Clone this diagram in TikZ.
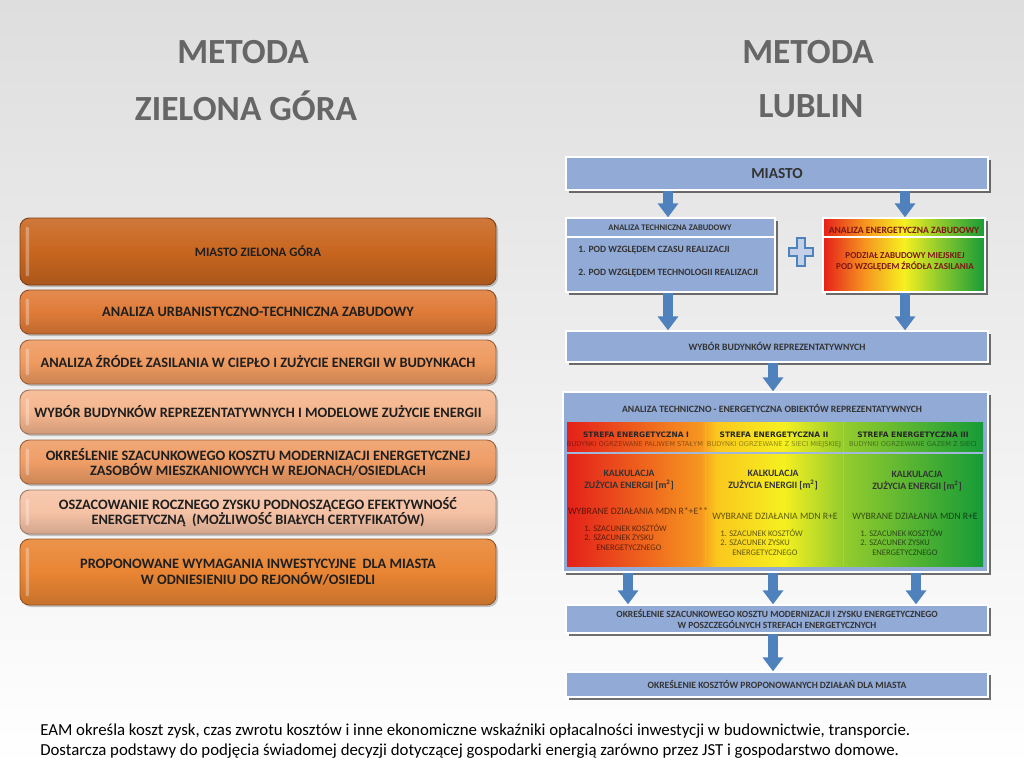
\documentclass[tikz,border=0pt]{standalone}
\usepackage{fontspec}
\setmainfont{Carlito}
\newfontfamily\verd{DejaVu Sans}
\usetikzlibrary{fit,shadows,arrows.meta,calc}
\definecolor{boxblue}{RGB}{146,170,214}
\definecolor{arrblue}{RGB}{79,129,189}
\definecolor{titlegray}{RGB}{102,102,102}
\definecolor{zred}{RGB}{228,32,26}
\definecolor{zorange}{RGB}{246,150,32}
\definecolor{zyorange}{RGB}{250,200,30}
\definecolor{zyellow}{RGB}{246,240,32}
\definecolor{zlgreen}{RGB}{150,205,45}
\definecolor{zgreen}{RGB}{22,155,55}
\definecolor{darkred}{RGB}{125,22,22}
\definecolor{bgtop}{RGB}{222,222,222}
\definecolor{or1}{RGB}{200,102,32}
\definecolor{or2}{RGB}{224,123,56}
\definecolor{or3}{RGB}{239,154,96}
\definecolor{or4}{RGB}{245,182,142}
\definecolor{or5}{RGB}{239,157,102}
\definecolor{or6}{RGB}{246,194,165}
\definecolor{or7}{RGB}{233,133,51}
\pgfdeclarehorizontalshading{zones}{100bp}{color(0bp)=(zred); color(25bp)=(zred); color(41bp)=(zorange); color(43bp)=(zyorange); color(51bp)=(zyellow); color(58bp)=(zlgreen); color(75bp)=(zgreen); color(100bp)=(zgreen)}
\pgfdeclarehorizontalshading{ryg}{100bp}{color(0bp)=(zred); color(25bp)=(zred); color(38bp)=(zorange); color(50bp)=(zyellow); color(60bp)=(zlgreen); color(75bp)=(zgreen); color(100bp)=(zgreen)}
\tikzset{
  title/.style={font=\bfseries\fontsize{26.5}{30}\selectfont, text=titlegray, inner sep=0pt},
  lbox/.style={rounded corners=7pt, draw=#1!65!black, line width=0.7pt,
    top color=#1!88!white, bottom color=#1!85!black, middle color=#1,
    drop shadow={shadow xshift=1.5pt, shadow yshift=-1.5pt, opacity=0.45},
    inner sep=0pt},
  ltext/.style={inner sep=0pt, align=center, text=black!88,
    font=\bfseries\fontsize{10.75}{11.2}\selectfont},
  hilite/.style={fill=white, opacity=0.3, rounded corners=1.5pt},
  bbox/.style={fill=boxblue, draw=white, line width=1pt,
    drop shadow={shadow xshift=2pt, shadow yshift=-2pt, opacity=0.75, fill=black!75},
    inner sep=0pt},
  btext/.style={font=\bfseries\fontsize{#1}{8.3}\selectfont, inner sep=0pt, align=center, text=black!80},
  rtext/.style={font=\fontsize{#1}{7.1}\selectfont, inner sep=0pt, text=black, text opacity=0.6},
  vtext/.style={font=\verd\bfseries\fontsize{5.6}{6}\selectfont, inner sep=0pt, text=black!85},
  vsub/.style={font=\verd\fontsize{5}{5}\selectfont, inner sep=0pt, text=black, text opacity=0.4},
  barrow/.style={draw=arrblue, line width=7.5pt, -{Triangle[length=10.5pt,width=15pt]}},
  sepline/.style={draw=white, line width=1.2pt},
  colline/.style={draw=boxblue!85!white, line width=1pt}
}
\begin{document}
\begin{tikzpicture}[x=0.75pt, y=-0.75pt]
\useasboundingbox (0,0) rectangle (1024,768);
\fill[top color=bgtop, bottom color=white] (0,0) rectangle (1024,768);

% titles
\node[title] (t1a) at (243,52) {METODA};
\node[title] (t1b) at (246,106) {ZIELONA GÓRA};
\node[title] (t2a) at (808,52) {METODA};
\node[title] (t2b) at (811,106) {LUBLIN};

% left column
\node[lbox=or1, fit={(20,218)(496,285)}] (l1) {};
\node[lbox=or2, fit={(20,290)(496,334)}] (l2) {};
\node[lbox=or3, fit={(20,340)(496,384)}] (l3) {};
\node[lbox=or4, fit={(20,390)(496,434)}] (l4) {};
\node[lbox=or5, fit={(20,440)(496,484)}] (l5) {};
\node[lbox=or6, fit={(20,490)(496,534)}] (l6) {};
\node[lbox=or7, fit={(20,539)(496,605)}] (l7) {};
\foreach \b in {l1,l2,l3,l4,l5,l6,l7}
  \fill[hilite] ($(\b.north west)+(6,9)$) rectangle ($(\b.south west)+(9.5,-9)$);
\node[ltext, font=\bfseries\fontsize{9.6}{11}\selectfont] (l1t) at (l1.center) {MIASTO ZIELONA GÓRA};
\node[ltext] (l2t) at (l2.center) {ANALIZA URBANISTYCZNO-TECHNICZNA ZABUDOWY};
\node[ltext] (l3t) at (l3.center) {ANALIZA ŹRÓDEŁ ZASILANIA W CIEPŁO I ZUŻYCIE ENERGII W BUDYNKACH};
\node[ltext] (l4t) at (l4.center) {WYBÓR BUDYNKÓW REPREZENTATYWNYCH I MODELOWE ZUŻYCIE ENERGII};
\node[ltext] (l5t) at (l5.center) {OKREŚLENIE SZACUNKOWEGO KOSZTU MODERNIZACJI ENERGETYCZNEJ\\ZASOBÓW MIESZKANIOWYCH W REJONACH/OSIEDLACH};
\node[ltext] (l6t) at (l6.center) {OSZACOWANIE ROCZNEGO ZYSKU PODNOSZĄCEGO EFEKTYWNOŚĆ\\ENERGETYCZNĄ~ (MOŻLIWOŚĆ BIAŁYCH CERTYFIKATÓW)};
\node[ltext, font=\bfseries\fontsize{10.75}{12}\selectfont] (l7t) at (l7.center) {PROPONOWANE WYMAGANIA INWESTYCYJNE~ DLA MIASTA\\W ODNIESIENIU DO REJONÓW/OSIEDLI};

% right column
\node[bbox, fit={(566,157)(988,190)}] (miasto) {};
\node[btext=11.5] (miastot) at (miasto.center) {MIASTO};

\node[bbox, fit={(566,218)(775,292)}] (tech) {};
\draw[sepline] (tech.west |- 0,237) -- (tech.east |- 0,237);
\node[btext=6.4] (techh) at (670,228) {ANALIZA TECHNICZNA ZABUDOWY};
\node[btext=7.2, anchor=west] (tech1) at (578,250) {1. POD WZGLĘDEM CZASU REALIZACJI};
\node[btext=7.2, anchor=west] (tech2) at (578,273) {2. POD WZGLĘDEM TECHNOLOGII REALIZACJI};

\draw[fill=boxblue!55!white, draw=arrblue, line width=1pt]
  (797,238) -- (805,238) -- (805,248) -- (813,248) -- (813,256) -- (805,256) -- (805,266)
  -- (797,266) -- (797,256) -- (789,256) -- (789,248) -- (797,248) -- cycle;

\node[bbox, fit={(823,218)(985,292)}, shading=ryg, shading angle=0] (energ) {};
\draw[sepline] (energ.west |- 0,237) -- (energ.east |- 0,237);
\node[btext=7.2, text=darkred] (energh) at (904,230) {ANALIZA ENERGETYCZNA ZABUDOWY};
\node[btext=6.8, text=darkred] (energb) at (905,262) {PODZIAŁ ZABUDOWY MIEJSKIEJ\\POD WZGLĘDEM ŹRÓDŁA ZASILANIA};

\node[bbox, fit={(566,331)(988,362)}] (wybor) {};
\node[btext=7.3] (wybort) at (wybor.center) {WYBÓR BUDYNKÓW REPREZENTATYWNYCH};

\node[bbox, fit={(563,392)(988,572)}] (big) {};
\node[btext=7.25] (bigh) at (772,408) {ANALIZA TECHNICZNO - ENERGETYCZNA OBIEKTÓW REPREZENTATYWNYCH};
\shade[shading=zones] (567,422) rectangle (983,566);
\node[fit={(567,422)(705,566)}, inner sep=0pt] (col1) {};
\node[fit={(705,422)(843,566)}, inner sep=0pt] (col2) {};
\node[fit={(843,422)(983,566)}, inner sep=0pt] (col3) {};
\draw[colline] (col1.north east) -- (col1.south east);
\draw[colline] (col2.north east) -- (col2.south east);
\draw[colline] (col1.west |- 0,453) -- (col3.east |- 0,453);

\node[vtext] (s1) at (636,435) {STREFA ENERGETYCZNA I};
\node[vsub] (s1b) at (635,444.5) {BUDYNKI OGRZEWANE PALIWEM STAŁYM};
\node[vtext] (s2) at (774,435) {STREFA ENERGETYCZNA II};
\node[vsub] (s2b) at (774,444.5) {BUDYNKI OGRZEWANE Z SIECI MIEJSKIEJ};
\node[vtext] (s3) at (913,435) {STREFA ENERGETYCZNA III};
\node[vsub] (s3b) at (913,444.5) {BUDYNKI OGRZEWANE GAZEM Z SIECI};

\node[btext=7.3, font=\bfseries\fontsize{7.3}{9}\selectfont] (k1) at (629,480) {KALKULACJA\\ZUŻYCIA ENERGII [m\textsuperscript{2}]};
\node[btext=7.3, font=\bfseries\fontsize{7.3}{9}\selectfont] (k2) at (773,480) {KALKULACJA\\ZUŻYCIA ENERGII [m\textsuperscript{2}]};
\node[btext=7.3, font=\bfseries\fontsize{7.3}{9}\selectfont] (k3) at (917,481) {KALKULACJA\\ZUŻYCIA ENERGII [m\textsuperscript{2}]};

\node[rtext=7.3] (w1) at (638,511) {WYBRANE DZIAŁANIA MDN R*+E**};
\node[rtext=7.3] (w2) at (775,516) {WYBRANE DZIAŁANIA MDN R+E};
\node[rtext=7.3] (w3) at (915,516) {WYBRANE DZIAŁANIA MDN R+E};

\node[rtext=6.4, align=left, anchor=north west] (p1) at (584,524) {1. SZACUNEK KOSZTÓW\\2. SZACUNEK ZYSKU\\\hspace*{9pt}ENERGETYCZNEGO};
\node[rtext=6.4, align=left, anchor=north west] (p2) at (720,529) {1. SZACUNEK KOSZTÓW\\2. SZACUNEK ZYSKU\\\hspace*{9pt}ENERGETYCZNEGO};
\node[rtext=6.4, align=left, anchor=north west] (p3) at (860,529) {1. SZACUNEK KOSZTÓW\\2. SZACUNEK ZYSKU\\\hspace*{9pt}ENERGETYCZNEGO};

\node[bbox, fit={(566,605)(988,633)}] (okr) {};
\node[btext=7.1] (okrt) at (okr.center) {OKREŚLENIE SZACUNKOWEGO KOSZTU MODERNIZACJI I ZYSKU ENERGETYCZNEGO\\W POSZCZEGÓLNYCH STREFACH ENERGETYCZNYCH};
\node[bbox, fit={(566,672)(988,697)}] (koszt) {};
\node[btext=7.2] (kosztt) at (koszt.center) {OKREŚLENIE KOSZTÓW PROPONOWANYCH DZIAŁAŃ DLA MIASTA};

% arrows
\coordinate (xa) at (668,0);
\coordinate (xb) at (905,0);
\coordinate (xc) at (773,0);
\coordinate (x1) at (628,0);
\coordinate (x3) at (916,0);
\draw[barrow] (miasto.south -| xa) -- (tech.north -| xa);
\draw[barrow] (miasto.south -| xb) -- (energ.north -| xb);
\draw[barrow] (tech.south -| xa) -- (wybor.north -| xa);
\draw[barrow] (energ.south -| xb) -- (wybor.north -| xb);
\draw[barrow] (wybor.south -| xc) -- (big.north -| xc);
\draw[barrow] (big.south -| x1) -- (okr.north -| x1);
\draw[barrow] (big.south -| xc) -- (okr.north -| xc);
\draw[barrow] (big.south -| x3) -- (okr.north -| x3);
\draw[barrow] (okr.south -| xc) -- (koszt.north -| xc);

% bottom text
\node[anchor=west, align=left, inner sep=0pt, font=\fontsize{12.6}{14.8}\selectfont, text=black] (note) at (40,741)
 {EAM określa koszt zysk, czas zwrotu kosztów i inne ekonomiczne wskaźniki opłacalności inwestycji w budownictwie, transporcie.\\
  Dostarcza podstawy do podjęcia świadomej decyzji dotyczącej gospodarki energią zarówno przez JST i gospodarstwo domowe.};
\end{tikzpicture}
\end{document}
